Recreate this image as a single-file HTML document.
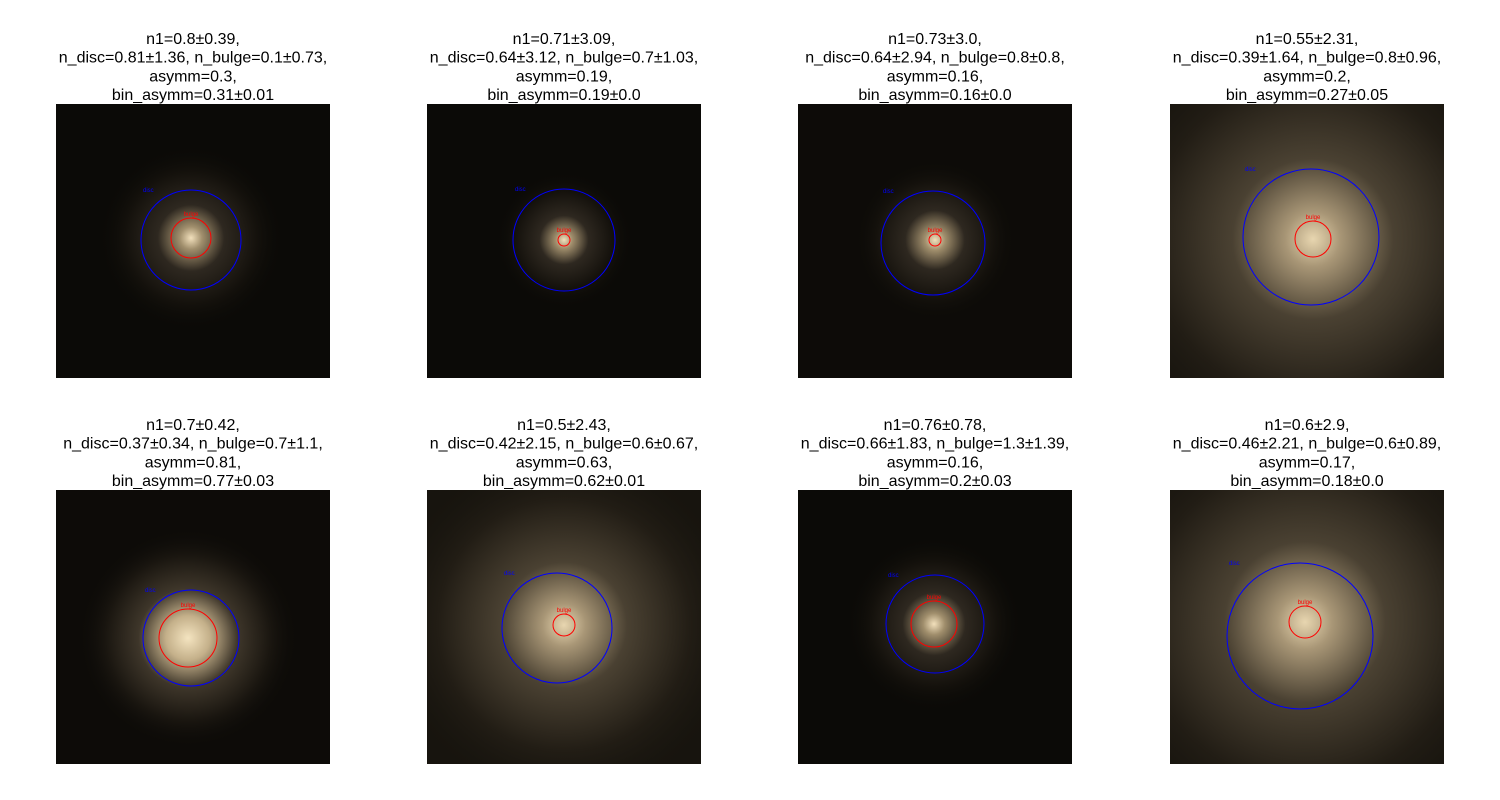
<!DOCTYPE html>
<html><head><meta charset="utf-8"><style>
html,body{margin:0;padding:0;background:#fff;width:1500px;height:800px;overflow:hidden;}
svg{display:block;}
text{font-family:"Liberation Sans","DejaVu Sans",sans-serif;}
</style></head><body>
<svg id="fig" width="1500" height="800" xmlns="http://www.w3.org/2000/svg">
<defs>
<radialGradient id="glowA"><stop offset="0" stop-color="#f4e4c0"/><stop offset="0.2" stop-color="#c4b08a"/><stop offset="0.45" stop-color="#3e362a"/><stop offset="0.75" stop-color="#1a1610"/><stop offset="1" stop-color="#0d0b08" stop-opacity="0"/></radialGradient>
<radialGradient id="glowB"><stop offset="0" stop-color="#e8d6b0"/><stop offset="0.12" stop-color="#a89676"/><stop offset="0.35" stop-color="#4a4132"/><stop offset="0.7" stop-color="#221d15"/><stop offset="1" stop-color="#17140e" stop-opacity="0"/></radialGradient>
<radialGradient id="glowC"><stop offset="0" stop-color="#f2e0bc"/><stop offset="0.12" stop-color="#a08e6c"/><stop offset="0.35" stop-color="#2e2820"/><stop offset="0.7" stop-color="#14110c"/><stop offset="1" stop-color="#0a0906" stop-opacity="0"/></radialGradient>
</defs>
<g id="panels"></g>
</svg>
<script>
const titles = [
 ["n1=0.8±0.39,","n_disc=0.81±1.36, n_bulge=0.1±0.73,","asymm=0.3,","bin_asymm=0.31±0.01"],
 ["n1=0.71±3.09,","n_disc=0.64±3.12, n_bulge=0.7±1.03,","asymm=0.19,","bin_asymm=0.19±0.0"],
 ["n1=0.73±3.0,","n_disc=0.64±2.94, n_bulge=0.8±0.8,","asymm=0.16,","bin_asymm=0.16±0.0"],
 ["n1=0.55±2.31,","n_disc=0.39±1.64, n_bulge=0.8±0.96,","asymm=0.2,","bin_asymm=0.27±0.05"],
 ["n1=0.7±0.42,","n_disc=0.37±0.34, n_bulge=0.7±1.1,","asymm=0.81,","bin_asymm=0.77±0.03"],
 ["n1=0.5±2.43,","n_disc=0.42±2.15, n_bulge=0.6±0.67,","asymm=0.63,","bin_asymm=0.62±0.01"],
 ["n1=0.76±0.78,","n_disc=0.66±1.83, n_bulge=1.3±1.39,","asymm=0.16,","bin_asymm=0.2±0.03"],
 ["n1=0.6±2.9,","n_disc=0.46±2.21, n_bulge=0.6±0.89,","asymm=0.17,","bin_asymm=0.18±0.0"]
];
// circle params relative to panel (0..274): disc cx, cy, r ; bulge cx, cy, r
const discCircles = [[135,136,50],[137,136,51],[135,139,52],[141,133,68],[135,148,48],[130,138,55],[137,134,49],[130,146,73]];
const bulgeCircles = [[135,134,20],[137,136,6],[137,136,6],[143,135,18],[132,148,29],[137,135,11],[136,134,23],[135,132,16]];
const glows = ["glowC","glowC","glowC","glowB","glowA","glowB","glowC","glowB"];
const glowR = [95,70,85,230,110,180,90,230];
const bgs = ["#0b0a07","#0b0a07","#0d0b08","#17140e","#0d0b08","#17140e","#0b0a07","#17140e"];

const NS="http://www.w3.org/2000/svg";
const g=document.getElementById('panels');
const colX=[56,427,798,1170], rowY=[104,490], S=274;
function mk(t,a){const e=document.createElementNS(NS,t);for(const k in a)e.setAttribute(k,a[k]);return e;}
for(let i=0;i<8;i++){
  const x0=colX[i%4], y0=rowY[Math.floor(i/4)];
  const p=mk('g',{});
  
  
  const clipId='c'+i;
  const cp=mk('clipPath',{id:clipId}); cp.appendChild(mk('rect',{x:x0,y:y0,width:S,height:S})); p.appendChild(cp);
  const img=mk('g',{'clip-path':'url(#'+clipId+')'});
  const bg=mk('rect',{x:x0,y:y0,width:S,height:S,fill:bgs[i]});
  
  
  img.appendChild(bg);
  const d=discCircles[i], b=bulgeCircles[i];
  img.appendChild(mk('circle',{cx:x0+b[0],cy:y0+b[1],r:glowR[i],fill:'url(#'+glows[i]+')'}));
  p.appendChild(img);
  const dc=mk('circle',{cx:x0+d[0],cy:y0+d[1],r:d[2],fill:'none',stroke:'#0000ff','stroke-width':1});
  
  
  p.appendChild(dc);
  const bc=mk('circle',{cx:x0+b[0],cy:y0+b[1],r:b[2],fill:'none',stroke:'#ff0000','stroke-width':1});
  
  
  p.appendChild(bc);
  const dl=mk('text',{x:x0+d[0]-d[2]+2,y:y0+d[1]-d[2]+2,fill:'#0000ff','font-size':6});
  dl.textContent='disc';
  
  
  p.appendChild(dl);
  const bl=mk('text',{x:x0+b[0],y:y0+b[1]-b[2]-2,fill:'#ff0000','font-size':6,'text-anchor':'middle'});
  bl.textContent='bulge';
  
  
  p.appendChild(bl);
  const tt=mk('text',{x:x0+S/2,'font-size':16,'text-anchor':'middle',fill:'#000'});
  
  
  titles[i].forEach((line,j)=>{const ts=mk('tspan',{x:x0+S/2,y:y0-60+j*18.7});ts.textContent=line;tt.appendChild(ts);});
  p.appendChild(tt);
  g.appendChild(p);
}
</script>
</body></html>
